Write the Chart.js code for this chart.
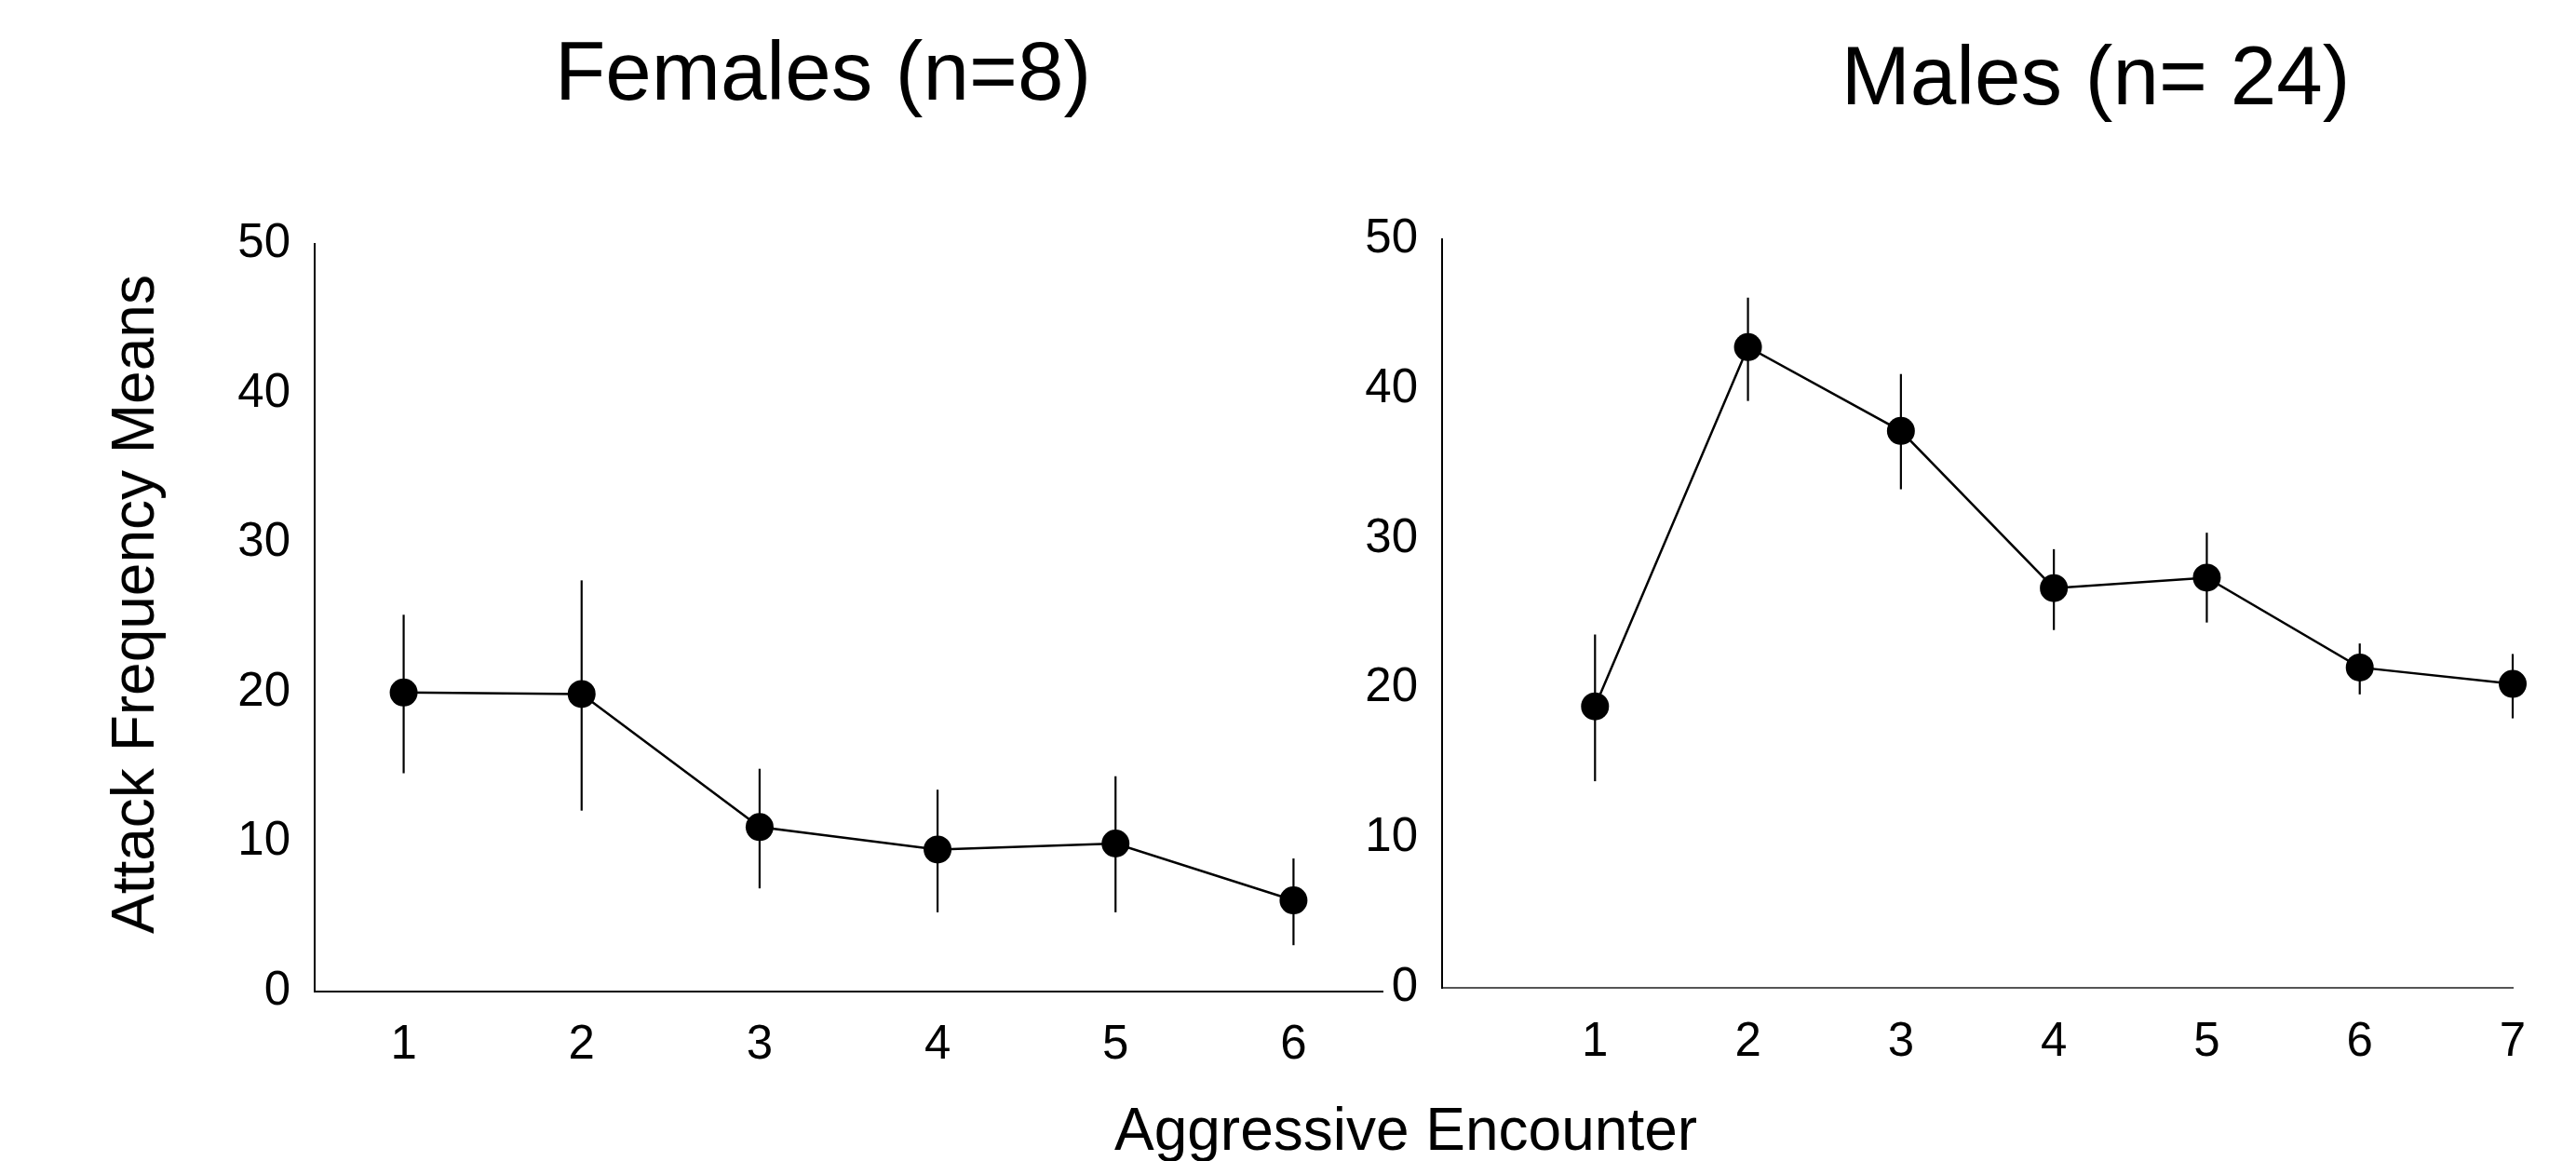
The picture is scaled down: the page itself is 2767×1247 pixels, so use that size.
<!DOCTYPE html>
<html>
<head>
<meta charset="utf-8">
<script src="https://cdn.jsdelivr.net/npm/chart.js@4.4.1/dist/chart.umd.min.js"></script>
<style>
  body { margin: 0; background: #fff; }
  #wrap { position: relative; width: 2767px; height: 1247px; overflow: hidden;
          font-family: "Liberation Sans", Arial, sans-serif; color: #000; }
  canvas { position: absolute; top: 0; }
  .lbl { position: absolute; white-space: nowrap; line-height: 1; transform: translateX(-50%); }
  .ylbl { position: absolute; white-space: nowrap; line-height: 1; font-size: 64px;
          transform: translate(-50%, -50%) rotate(-90deg); }
</style>
</head>
<body>
<div id="wrap">
  <canvas id="femaleChart" width="1500" height="1247" style="left:0;width:1500px;height:1247px"></canvas>
  <canvas id="maleChart" width="1387" height="1247" style="left:1380px;width:1387px;height:1247px"></canvas>
  <div class="lbl" style="left:884px;top:32px;font-size:89px">Females (n=8)</div>
  <div class="lbl" style="left:2251px;top:37px;font-size:89px">Males (n= 24)</div>
  <div class="lbl" style="left:1510px;top:1181px;font-size:64px">Aggressive Encounter</div>
  <div class="ylbl" style="left:143px;top:649px">Attack Frequency Means</div>
</div>
<script>
const femaleEncounter = [1, 2, 3, 4, 5, 6];
const femaleMeans = [20.0, 19.9, 11.0, 9.5, 9.9, 6.1];
const femaleUpper = [25.2, 27.5, 14.9, 13.5, 14.4, 8.9];
const femaleLower = [14.6, 12.1, 6.9, 5.3, 5.3, 3.1];

const maleEncounter = [1, 2, 3, 4, 5, 6, 7];
const maleMeans = [18.8, 42.8, 37.2, 26.7, 27.4, 21.4, 20.3];
const maleUpper = [23.6, 46.1, 41.0, 29.3, 30.4, 23.0, 22.3];
const maleLower = [13.8, 39.2, 33.3, 23.9, 24.4, 19.6, 18.0];

const yTicks = [0, 10, 20, 30, 40, 50];

Chart.defaults.font.family = '"Liberation Sans", Arial, sans-serif';
Chart.defaults.color = '#000';

// vertical error bars, drawn under the points
const errorBars = {
    id: 'errorBars',
    beforeDatasetsDraw(chart) {
        const ctx = chart.ctx;
        const x = chart.scales.x;
        const y = chart.scales.y;
        const ds = chart.data.datasets[0];
        ctx.save();
        ctx.strokeStyle = '#000';
        ctx.lineWidth = 2.2;
        ds.data.forEach((p, i) => {
            const px = x.getPixelForValue(p.x);
            ctx.beginPath();
            ctx.moveTo(px, y.getPixelForValue(ds.errLow[i]));
            ctx.lineTo(px, y.getPixelForValue(ds.errHigh[i]));
            ctx.stroke();
        });
        ctx.restore();
    }
};

function makeChart(canvasId, xs, means, lower, upper, xMin, xMax, g) {
    const ctx = document.getElementById(canvasId);
    if (!ctx) {
        console.error("Canvas element with ID not found:", canvasId);
        return;
    }

    new Chart(ctx, {
        type: 'line',
        data: {
            datasets: [{
                data: xs.map((v, i) => ({ x: v, y: means[i] })),
                errLow: lower,
                errHigh: upper,
                borderColor: '#000',
                borderWidth: 2.5,
                pointRadius: 15,
                pointBackgroundColor: '#000',
                pointBorderWidth: 0,
                tension: 0,
                clip: false
            }]
        },
        options: {
            responsive: false,
            animation: false,
            layout: {
                padding: { left: 0, top: g.top, right: g.right, bottom: 0 }
            },
            plugins: {
                legend: { display: false },
                tooltip: { enabled: false }
            },
            scales: {
                x: {
                    type: 'linear',
                    min: xMin,
                    max: xMax,
                    afterBuildTicks: s => { s.ticks = xs.map(v => ({ value: v })); },
                    afterFit: s => { s.height = g.xHeight; },
                    grid: { display: false, drawTicks: false },
                    border: { display: true, color: g.xColor, width: 2 },
                    ticks: {
                        padding: g.xPad,
                        maxRotation: 0,
                        autoSkip: false,
                        font: { size: 51 }
                    }
                },
                y: {
                    type: 'linear',
                    min: 0,
                    max: 50,
                    afterBuildTicks: s => { s.ticks = yTicks.map(v => ({ value: v })); },
                    afterFit: s => { s.width = g.yWidth; },
                    grid: { display: false, drawTicks: false },
                    border: { display: true, color: '#000', width: 2 },
                    ticks: {
                        padding: 26,
                        font: { size: 51 }
                    }
                }
            }
        },
        plugins: [errorBars]
    });
}

makeChart('femaleChart', femaleEncounter, femaleMeans, femaleLower, femaleUpper, 0.5, 6.5,
    { top: 262, right: 13, xHeight: 182, yWidth: 338, xPad: 27, xColor: '#000' });
makeChart('maleChart', maleEncounter, maleMeans, maleLower, maleUpper, 0, 7,
    { top: 257, right: 68, xHeight: 186, yWidth: 169, xPad: 28, xColor: '#555' });
</script>
</body>
</html>
